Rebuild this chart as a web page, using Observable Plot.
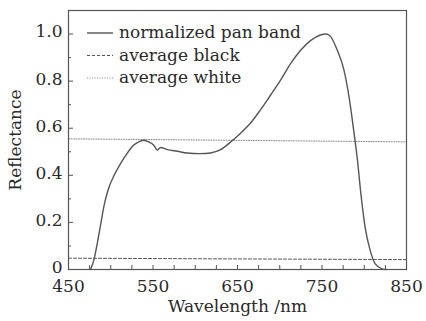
<!DOCTYPE html>
<html>
<head>
<meta charset="utf-8">
<script src="https://cdn.jsdelivr.net/npm/d3@7"></script>
<script src="https://cdn.jsdelivr.net/npm/@observablehq/plot@0.6"></script>
<style>
  body { margin: 0; background: #fff; }
  svg { font-family: "DejaVu Serif", serif; }
</style>
</head>
<body>
<div id="chart"></div>
<script>
// Normalized pan band (wavelength nm, reflectance)
const wavelength = [476, 480, 484, 488, 492, 497, 504, 510, 517, 525, 533, 539, 545, 551, 555, 559, 567, 579, 590, 606, 618, 630, 642, 653, 665, 677, 689, 701, 713, 725, 736, 748, 755, 760, 768, 776, 782, 788, 792, 796, 801, 807, 813, 821, 826];
const panBand    = [0, 0.04, 0.11, 0.19, 0.27, 0.34, 0.40, 0.44, 0.48, 0.52, 0.542, 0.549, 0.542, 0.528, 0.507, 0.518, 0.509, 0.502, 0.495, 0.492, 0.495, 0.509, 0.542, 0.577, 0.62, 0.677, 0.74, 0.804, 0.875, 0.932, 0.971, 0.996, 1.0, 0.99, 0.932, 0.847, 0.733, 0.577, 0.464, 0.322, 0.18, 0.081, 0.024, 0.003, 0];
// Average black and white references (endpoints)
const refWavelength = [450, 850];
const avgBlack = [0.048, 0.042];
const avgWhite = [0.555, 0.542];
// Legend and ticks
const seriesNames = ["normalized pan band", "average black", "average white"];
const xTickLabels = [450, 550, 650, 750, 850];
const yTickLabels = [0, 0.2, 0.4, 0.6, 0.8, 1.0];
const xMinorTicks = d3.range(450, 851, 25);
const yMinorTicks = [0.1, 0.3, 0.5, 0.7, 0.9];

const pan = wavelength.map((w, i) => ({w, r: panBand[i]}));
const black = refWavelength.map((w, i) => ({w, r: avgBlack[i]}));
const white = refWavelength.map((w, i) => ({w, r: avgWhite[i]}));

const styles = [
  {stroke: "#555", width: 1.4, dash: null},
  {stroke: "#555", width: 1, dash: "3,2"},
  {stroke: "#888", width: 1, dash: "1,1.5"}
];

const H = 321, W = 426, mL = 68, mR = 20, mT = 10, mB = 52;

const legend = () => {
  const g = d3.create("svg:g").attr("text-anchor", "start");
  seriesNames.forEach((name, i) => {
    const y = 33 + i * 22.5;
    g.append("line").attr("x1", 87).attr("x2", 113).attr("y1", y).attr("y2", y)
      .attr("stroke", styles[i].stroke).attr("stroke-width", styles[i].width)
      .attr("stroke-dasharray", styles[i].dash);
    g.append("text").attr("x", 119).attr("y", y).attr("dy", "0.32em")
      .attr("font-size", 17).attr("fill", "#2a2a2a").text(name);
  });
  return g.node();
};

const chart = Plot.plot({
  width: W,
  height: H,
  marginLeft: mL,
  marginRight: mR,
  marginTop: mT,
  marginBottom: mB,
  style: {fontFamily: "DejaVu Serif, serif", fontSize: "17px", color: "#2a2a2a", background: "#fff"},
  x: {domain: [450, 850]},
  y: {domain: [0, 1.1]},
  marks: [
    Plot.tickX(xMinorTicks, {x: d => d, insetTop: H - mT - mB - 4, stroke: "#555"}),
    Plot.tickY(yMinorTicks, {y: d => d, insetRight: W - mL - mR - 3, stroke: "#555"}),
    Plot.tickY(yTickLabels, {y: d => d, insetRight: W - mL - mR - 5, stroke: "#555"}),
    Plot.axisX({ticks: xTickLabels, tickSize: 0, tickPadding: 10, tickFormat: d => String(d), fontSize: 17, label: "Wavelength /nm", labelAnchor: "center", labelOffset: 42, labelArrow: "none"}),
    Plot.axisY({ticks: yTickLabels, tickSize: 0, tickPadding: 6, dy: -2, tickFormat: d => d === 0 ? "0" : d.toFixed(1), fontSize: 17, label: "Reflectance", labelAnchor: "center", labelOffset: 60, labelArrow: "none"}),
    Plot.line(white, {x: "w", y: "r", stroke: styles[2].stroke, strokeWidth: styles[2].width, strokeDasharray: styles[2].dash}),
    Plot.line(black, {x: "w", y: "r", stroke: styles[1].stroke, strokeWidth: styles[1].width, strokeDasharray: styles[1].dash}),
    Plot.line(pan, {x: "w", y: "r", stroke: styles[0].stroke, strokeWidth: styles[0].width, curve: "monotone-x"}),
    Plot.frame({stroke: "#555", strokeWidth: 1.2}),
    legend
  ]
});
document.getElementById("chart").appendChild(chart);
</script>
</body>
</html>
